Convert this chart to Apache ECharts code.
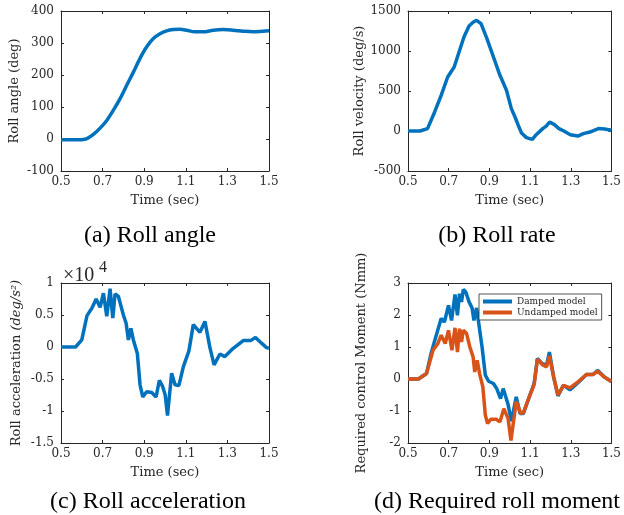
<!DOCTYPE html>
<html><head><meta charset="utf-8">
<script src="https://cdn.jsdelivr.net/npm/echarts@6/dist/echarts.min.js"></script>
<style>html,body{margin:0;padding:0;background:#fff}#c{width:624px;height:515px}</style>
</head><body><div id="c"></div>
<script>
// ---- data ----
const xTicks = [0.5, 0.7, 0.9, 1.1, 1.3, 1.5];

const angleT = [0.5,0.6,0.625,0.657,0.688,0.72,0.752,0.784,0.816,0.848,0.88,0.912,0.944,0.976,1.008,1.04,1.072,1.104,1.144,1.184,1.232,1.28,1.327,1.375,1.423,1.471,1.5];
const angleV = [-2,-2,1,15,34,58,90,126,168,209,252,288,314,329,338,342,343,340,335,335,340,342,340,337,335,337,338];

const rateT = [0.5,0.559,0.596,0.631,0.663,0.695,0.727,0.751,0.775,0.80,0.82,0.837,0.859,0.888,0.92,0.952,0.984,1.008,1.026,1.042,1.058,1.082,1.111,1.130,1.162,1.178,1.196,1.218,1.242,1.266,1.298,1.335,1.362,1.394,1.436,1.466,1.5];
const rateV = [0,0,30,238,446,675,800,988,1175,1313,1360,1384,1342,1155,925,696,509,280,175,70,-25,-83,-105,-46,30,58,110,83,30,0,-46,-63,-33,-13,30,25,10];

const accT = [0.5,0.57,0.60,0.625,0.649,0.669,0.688,0.704,0.72,0.736,0.749,0.76,0.776,0.80,0.813,0.824,0.836,0.848,0.867,0.88,0.893,0.912,0.936,0.957,0.973,0.989,1.001,1.012,1.032,1.048,1.067,1.088,1.115,1.136,1.168,1.192,1.216,1.236,1.264,1.288,1.328,1.376,1.412,1.435,1.464,1.488,1.5];
const accV = [0,0,0.11,0.49,0.61,0.75,0.62,0.84,0.48,0.91,0.45,0.83,0.79,0.50,0.37,0.11,0.29,0.11,-0.10,-0.59,-0.78,-0.70,-0.71,-0.78,-0.52,-0.62,-0.75,-1.07,-0.41,-0.59,-0.60,-0.31,-0.06,0.35,0.23,0.40,-0.01,-0.28,-0.11,-0.15,-0.02,0.10,0.10,0.15,0.06,-0.01,-0.02];

const dampT = [0.5,0.551,0.591,0.615,0.639,0.663,0.679,0.699,0.714,0.731,0.743,0.753,0.763,0.772,0.784,0.80,0.815,0.824,0.837,0.848,0.864,0.88,0.896,0.92,0.936,0.955,0.968,0.992,1.008,1.032,1.051,1.067,1.096,1.12,1.136,1.16,1.181,1.195,1.216,1.237,1.264,1.296,1.337,1.377,1.409,1.433,1.465,1.49,1.5];
const dampV = [0,0,0.17,0.84,1.37,1.89,1.78,2.30,1.83,2.64,1.99,2.67,2.41,2.80,2.72,2.41,2.22,1.83,2.22,1.73,1.0,0.12,-0.07,-0.14,-0.30,-0.61,-0.30,-0.80,-1.32,-0.56,-1.08,-1.08,-0.56,-0.14,0.64,0.48,0.43,0.84,0.06,-0.53,-0.20,-0.34,-0.11,0.14,0.14,0.27,0.06,-0.04,-0.08];

const undT = [0.5,0.551,0.591,0.623,0.647,0.663,0.683,0.699,0.716,0.731,0.743,0.753,0.763,0.772,0.788,0.804,0.82,0.828,0.84,0.852,0.868,0.88,0.891,0.907,0.933,0.952,0.971,0.992,1.006,1.032,1.054,1.067,1.096,1.12,1.136,1.16,1.181,1.195,1.216,1.237,1.264,1.296,1.337,1.377,1.409,1.433,1.465,1.49,1.5];
const undV = [0,0,0.17,0.90,1.11,1.37,1.11,1.52,0.90,1.60,0.84,1.57,1.16,1.52,1.42,1.0,0.69,0.22,0.58,0.17,-0.25,-1.13,-1.39,-1.26,-1.26,-1.34,-0.93,-1.24,-1.92,-0.70,-1.08,-1.05,-0.56,-0.17,0.62,0.45,0.38,0.72,0.06,-0.50,-0.20,-0.28,-0.08,0.14,0.14,0.24,0.06,-0.04,-0.08];

const captions = ['(a) Roll angle', '(b) Roll rate', '(c) Roll acceleration', '(d) Required roll moment'];

// ---- styles ----
const AX = '#262626';
const TC = '#262626';
const FF = 'DejaVu Serif';
const BLUE = '#0072BD', ORANGE = '#D95319';

const grids = [
  {left: 61, top: 11, width: 208, height: 160},
  {left: 408, top: 11, width: 208, height: 160},
  {left: 61, top: 283, width: 208, height: 160},
  {left: 408, top: 283, width: 208, height: 160}
];

function xAx(g, pos) {
  return {
    type: 'value', gridIndex: g, position: pos, min: 0.5, max: 1.5,
    axisLine: {show: true, onZero: false, lineStyle: {color: AX, width: 1}},
    axisTick: {show: true, inside: true, length: 3, customValues: xTicks, lineStyle: {color: AX}},
    axisLabel: {show: pos === 'bottom', customValues: xTicks, margin: 5, color: TC, fontFamily: FF, fontSize: 12,
      formatter: v => String(v)},
    splitLine: {show: false},
    name: pos === 'bottom' ? 'Time (sec)' : '', nameLocation: 'middle', nameGap: 23,
    nameTextStyle: {color: TC, fontFamily: FF, fontSize: 13}
  };
}
function yAx(g, pos, min, max, interval, name, gap, rich) {
  const o = {
    type: 'value', gridIndex: g, position: pos, min, max, interval,
    axisLine: {show: true, onZero: false, lineStyle: {color: AX, width: 1}},
    axisTick: {show: true, inside: true, length: 3, lineStyle: {color: AX}},
    axisLabel: {show: pos === 'left', margin: 7, color: TC, fontFamily: FF, fontSize: 12,
      formatter: v => String(v)},
    splitLine: {show: false},
    name: pos === 'left' ? name : '', nameLocation: 'middle', nameRotate: 90, nameGap: gap,
    nameTextStyle: {color: TC, fontFamily: FF, fontSize: 13}
  };
  if (rich) o.nameTextStyle.rich = rich;
  return o;
}

const xAxis = [], yAxis = [];
const ySpec = [
  [-100, 400, 100, 'Roll angle (deg)', 40],
  [-500, 1500, 500, 'Roll velocity (deg/s)', 40],
  [-1.5, 1, 0.5, '{a|Roll acceleration }{b|(deg/s²)}', 38],
  [-2, 3, 1, 'Required control Moment (Nmm)', 40]
];
const accRich = {
  a: {color: TC, fontFamily: FF, fontSize: 13},
  b: {color: TC, fontFamily: FF, fontSize: 13, fontStyle: 'italic'}
};
for (let g = 0; g < 4; g++) {
  xAxis.push(xAx(g, 'bottom'), xAx(g, 'top'));
  const s = ySpec[g];
  yAxis.push(yAx(g, 'left', s[0], s[1], s[2], s[3], s[4], g === 2 ? accRich : null),
             yAx(g, 'right', s[0], s[1], s[2], '', 0, null));
}

function pairs(T, V) { return T.map((t, i) => [t, V[i]]); }
function line(g, name, T, V, color, smooth) {
  return {
    type: 'line', name, xAxisIndex: 2 * g, yAxisIndex: 2 * g,
    data: pairs(T, V), showSymbol: false, symbol: 'none', smooth: smooth || false,
    lineStyle: {color, width: 3.5}, itemStyle: {color}, z: 3
  };
}

const capPos = [[150, 236], [497, 236], [148, 502], [497, 502]];
const graphic = captions.map((c, i) => ({
  type: 'text', x: capPos[i][0], y: capPos[i][1],
  style: {text: c, font: '24px "Liberation Serif"', fill: '#000',
    textAlign: 'center', textVerticalAlign: 'middle', align: 'center', verticalAlign: 'middle'}
}));
graphic.push({
  type: 'text', x: 63, y: 286,
  style: {text: '×10', font: '20px "Liberation Serif"', fill: TC,
    textAlign: 'left', textVerticalAlign: 'bottom', align: 'left', verticalAlign: 'bottom'}
});
graphic.push({
  type: 'text', x: 99, y: 276,
  style: {text: '4', font: '16px "Liberation Serif"', fill: TC,
    textAlign: 'left', textVerticalAlign: 'bottom', align: 'left', verticalAlign: 'bottom'}
});

const chart = echarts.init(document.getElementById('c'), null, {renderer: 'canvas'});
chart.setOption({
  animation: false,
  backgroundColor: '#fff',
  grid: grids,
  xAxis, yAxis,
  legend: {
    orient: 'vertical', left: 479, top: 294, padding: [3, 4, 3, 4], itemGap: 2,
    itemWidth: 29, itemHeight: 4, icon: 'rect',
    borderColor: AX, borderWidth: 0.8, borderRadius: 0, backgroundColor: '#fff',
    textStyle: {fontFamily: FF, fontSize: 9, color: TC},
    data: ['Damped model', 'Undamped model']
  },
  graphic,
  series: [
    line(0, 'Roll angle', angleT, angleV, BLUE, 0.3),
    line(1, 'Roll rate', rateT, rateV, BLUE),
    line(2, 'Roll acceleration', accT, accV, BLUE),
    line(3, 'Damped model', dampT, dampV, BLUE),
    line(3, 'Undamped model', undT, undV, ORANGE)
  ]
});
</script></body></html>
